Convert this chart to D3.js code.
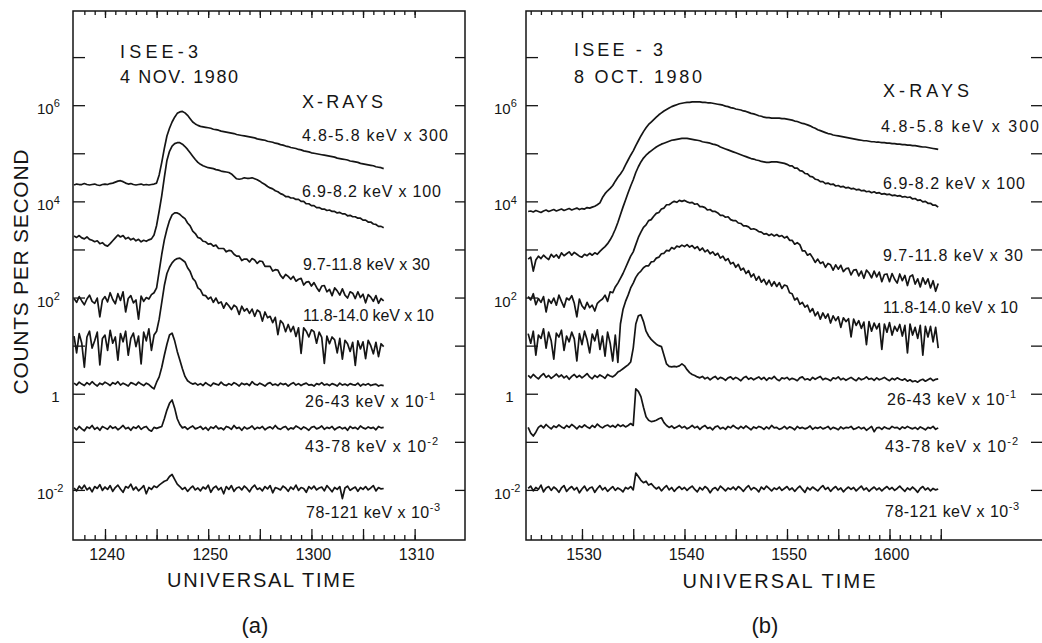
<!DOCTYPE html>
<html><head><meta charset="utf-8">
<script src="https://cdn.jsdelivr.net/npm/d3@7"></script>
<style>
body{margin:0;background:#fff}
svg{display:block}
text{font-family:"Liberation Sans",Arial,sans-serif;fill:#151515}
</style>
</head><body>
<svg id="chart" width="1042" height="643"></svg>
<script>
// ---------------- DATA ----------------
// Values are log10(counts per second, scaled as labelled), sampled every 0.25 min.
// Panel (a): 4 Nov 1980, time in minutes after 12:00 UT, first sample 12:37.
const timeStartA = 37, timeStepA = 0.25;
// Panel (b): 8 Oct 1980, time in minutes after 15:00 UT, first sample 15:24.75.
const timeStartB = 24.75, timeStepB = 0.25;

const channelLabels = [
  {base:"4.8-5.8 keV x 300", exp:""},
  {base:"6.9-8.2 keV x 100", exp:""},
  {base:"9.7-11.8 keV x 30", exp:""},
  {base:"11.8-14.0 keV x 10", exp:""},
  {base:"26-43 keV x 10", exp:"-1"},
  {base:"43-78 keV x 10", exp:"-2"},
  {base:"78-121 keV x 10", exp:"-3"}
];

const a_4_8 = [4.34,4.36,4.35,4.35,4.37,4.35,4.34,4.35,4.36,4.34,4.33,4.35,4.36,4.35,4.37,4.38,
4.40,4.42,4.43,4.41,4.38,4.36,4.37,4.35,4.34,4.35,4.36,4.34,4.35,4.34,4.35,4.36,
4.38,4.55,4.81,5.10,5.36,5.52,5.65,5.75,5.83,
5.86,5.87,5.84,5.79,5.72,5.65,5.61,5.58,5.56,5.55,5.54,5.53,
5.52,5.50,5.49,5.48,5.46,5.45,5.44,5.43,5.42,5.41,5.39,5.38,5.37,5.36,5.35,5.34,
5.33,5.32,5.30,5.29,5.28,5.27,5.25,5.24,5.23,5.21,5.20,5.18,5.17,5.15,5.14,5.12,
5.11,5.10,5.08,5.07,5.05,5.04,5.03,5.01,5.00,4.99,4.98,4.97,4.96,4.95,4.94,4.93,
4.92,4.90,4.89,4.88,4.87,4.86,4.84,4.83,4.82,4.81,4.79,4.78,4.77,4.76,4.75,4.74,
4.72,4.71,4.70,4.68];
const a_6_9 = [3.28,3.25,3.29,3.24,3.22,3.26,3.21,3.19,3.16,3.18,3.12,3.14,3.09,3.07,3.12,3.18,
3.24,3.30,3.26,3.29,3.22,3.25,3.20,3.23,3.18,3.21,3.16,3.19,3.17,3.20,3.22,3.30,
3.50,3.80,4.12,4.50,4.85,5.04,5.15,5.20,5.22,
5.22,5.19,5.14,5.08,5.01,4.94,4.87,4.81,4.77,4.74,4.72,4.70,
4.69,4.68,4.66,4.65,4.63,4.62,4.61,4.60,4.57,4.52,4.47,4.46,4.47,4.49,4.48,4.48,
4.49,4.47,4.45,4.42,4.38,4.35,4.31,4.28,4.26,4.22,4.20,4.16,4.14,4.10,4.10,4.07,
4.07,4.04,4.04,4.00,4.00,3.95,3.95,3.91,3.91,3.87,3.87,3.84,3.84,3.81,3.82,3.79,
3.79,3.76,3.77,3.74,3.74,3.70,3.71,3.68,3.68,3.65,3.65,3.61,3.61,3.57,3.57,3.53,
3.52,3.48,3.48,3.45];
const a_9_7 = [1.98,1.90,2.02,1.93,1.85,1.97,2.05,1.92,1.88,1.99,1.60,1.95,2.02,1.91,2.10,1.96,
1.87,2.08,1.94,2.12,1.70,1.98,2.04,1.89,1.95,1.55,2.03,1.92,2.00,1.97,2.06,2.10,
2.20,2.55,2.90,3.20,3.42,3.60,3.72,3.76,3.76,
3.73,3.68,3.64,3.55,3.49,3.38,3.33,3.25,3.23,3.17,3.16,3.11,
3.12,3.07,3.09,3.02,3.02,3.02,2.95,2.98,2.97,2.90,2.86,2.86,2.77,2.80,2.80,2.74,
2.81,2.78,2.71,2.76,2.75,2.65,2.65,2.65,2.55,2.58,2.57,2.46,2.40,2.48,2.44,2.38,
2.44,2.34,2.38,2.40,2.26,2.32,2.33,2.24,2.31,2.21,2.13,2.24,2.25,2.12,2.17,2.04,
2.20,2.14,2.05,2.18,2.05,1.99,2.12,2.09,1.98,2.12,2.00,2.07,1.89,2.06,2.01,1.92,
2.04,1.88,1.98,1.93];
const a_11_8 = [1.20,0.85,1.25,1.05,0.55,1.18,1.30,0.95,1.10,1.28,0.60,1.15,1.22,0.90,1.32,1.05,
1.18,0.70,1.25,1.08,1.30,0.80,1.15,1.26,0.98,1.20,0.62,1.28,1.10,1.35,0.90,1.22,
1.30,1.55,1.90,2.25,2.50,2.63,2.72,2.78,2.81,
2.82,2.78,2.74,2.62,2.54,2.40,2.34,2.20,2.16,2.05,2.04,1.97,
2.01,1.90,1.99,1.88,1.91,1.78,1.89,1.83,1.75,1.84,1.80,1.65,1.82,1.72,1.77,1.67,
1.76,1.61,1.74,1.70,1.51,1.70,1.58,1.61,1.48,1.59,1.23,1.52,1.46,1.29,1.44,1.29,
1.40,1.19,1.37,0.84,1.37,1.30,1.18,1.33,1.29,1.05,1.28,1.17,0.63,1.20,1.04,1.18,
1.12,0.85,1.15,0.72,1.11,1.04,0.88,1.07,0.59,1.10,0.93,1.08,0.73,1.11,1.00,0.83,
1.07,0.77,1.04,0.98];
const a_26 = [0.22,0.18,0.24,0.20,0.17,0.23,0.19,0.25,0.20,0.16,0.22,0.19,0.24,0.21,0.17,0.23,
0.20,0.25,0.18,0.22,0.19,0.16,0.23,0.21,0.18,0.24,0.20,0.17,0.22,0.19,0.14,0.10,
0.24,0.35,0.55,0.80,1.03,1.22,1.26,1.10,0.88,
0.70,0.52,0.36,0.27,0.23,0.20,0.22,0.18,
0.21,0.17,0.23,0.19,0.16,0.22,0.20,0.18,0.24,0.19,0.17,0.21,0.18,0.23,0.20,0.16,
0.22,0.19,0.21,0.17,0.25,0.20,0.18,0.22,0.19,0.16,0.21,0.23,0.18,0.20,0.17,0.22,
0.19,0.21,0.16,0.20,0.23,0.18,0.21,0.17,0.20,0.22,0.18,0.19,0.16,0.21,0.19,0.23,
0.18,0.20,0.17,0.21,0.19,0.16,0.22,0.18,0.20,0.17,0.21,0.19,0.18,0.22,0.16,0.20,
0.18,0.21,0.17,0.19,0.20,0.16,0.18,0.17];
const a_43 = [-0.70,-0.75,-0.68,-0.73,-0.77,-0.69,-0.72,-0.66,-0.74,-0.70,-0.76,-0.68,-0.71,-0.74,-0.67,-0.72,
-0.69,-0.75,-0.71,-0.66,-0.73,-0.70,-0.76,-0.69,-0.72,-0.67,-0.74,-0.70,-0.68,-0.75,-0.78,-0.70,
-0.72,-0.70,-0.68,-0.52,-0.34,-0.20,-0.13,-0.30,-0.52,
-0.64,-0.71,-0.69,-0.74,-0.70,-0.67,-0.73,-0.71,
-0.68,-0.74,-0.70,-0.76,-0.69,-0.72,-0.67,-0.73,-0.71,-0.75,-0.68,-0.70,-0.74,-0.66,-0.72,-0.70,
-0.76,-0.69,-0.73,-0.71,-0.67,-0.74,-0.70,-0.72,-0.68,-0.75,-0.71,-0.69,-0.73,-0.66,-0.72,-0.74,
-0.70,-0.68,-0.75,-0.71,-0.73,-0.67,-0.70,-0.74,-0.69,-0.72,-0.76,-0.70,-0.68,-0.73,-0.71,-0.67,
-0.74,-0.70,-0.72,-0.68,-0.75,-0.71,-0.69,-0.73,-0.70,-0.76,-0.68,-0.72,-0.70,-0.74,-0.67,-0.71,
-0.73,-0.69,-0.72,-0.70,-0.75,-0.68,-0.71,-0.70];
const a_78 = [-1.96,-2.02,-1.92,-1.98,-1.90,-2.00,-1.95,-2.04,-1.93,-1.97,-1.89,-2.01,-1.94,-1.99,-1.91,-2.03,
-1.95,-1.90,-1.98,-2.05,-1.93,-1.96,-1.88,-2.00,-1.94,-2.02,-1.97,-1.91,-2.08,-1.95,-1.99,-1.92,
-1.95,-1.90,-1.86,-1.82,-1.80,-1.72,-1.68,-1.78,-1.88,
-1.93,-1.99,-1.95,-2.03,-1.97,-1.92,-2.00,-1.96,
-2.02,-1.94,-1.98,-1.90,-2.05,-1.96,-1.92,-2.00,-1.95,-2.08,-1.93,-1.99,-1.91,-2.03,-1.96,-1.94,
-2.00,-1.92,-1.97,-2.04,-1.95,-1.90,-1.99,-1.96,-2.02,-1.93,-1.98,-1.91,-2.06,-1.95,-1.97,-2.00,
-1.92,-1.96,-2.03,-1.94,-1.99,-1.90,-2.01,-1.95,-1.97,-2.05,-1.93,-1.98,-1.92,-2.00,-1.96,-1.94,
-2.02,-1.91,-1.97,-2.04,-1.95,-1.99,-1.93,-2.18,-1.96,-1.92,-2.01,-1.97,-1.94,-2.03,-1.95,-1.99,
-1.93,-2.00,-1.96,-1.91,-2.02,-1.95,-1.98,-1.97];

const b_4_8 = [3.79,
3.80,3.78,3.81,3.79, 3.77,3.80,3.82,3.79, 3.81,3.83,3.80,3.82, 3.84,3.81,3.83,3.85,
3.82,3.84,3.86,3.83, 3.85,3.84,3.87,3.86, 3.88,3.90,3.93,3.97, 4.08,4.16,4.22,4.27,
4.33,4.42,4.50,4.57, 4.65,4.76,4.86,4.96, 5.05,5.16,5.26,5.36, 5.45,5.53,5.60,5.65,
5.70,5.75,5.80,5.84, 5.88,5.91,5.94,5.97, 5.99,6.01,6.03,6.04, 6.05,6.06,6.06,6.07,
6.07,6.07,6.07,6.06, 6.06,6.05,6.05,6.04, 6.03,6.02,6.01,6.00, 5.98,5.97,5.95,5.94,
5.92,5.91,5.90,5.88, 5.87,5.85,5.83,5.82, 5.80,5.78,5.77,5.75, 5.74,5.74,5.73,5.73,
5.73,5.73,5.72,5.72, 5.71,5.70,5.69,5.67, 5.66,5.64,5.62,5.61, 5.59,5.57,5.54,5.52,
5.49,5.47,5.45,5.43, 5.41,5.40,5.38,5.37, 5.36,5.35,5.34,5.33, 5.32,5.31,5.30,5.29,
5.28,5.27,5.26,5.26, 5.25,5.24,5.24,5.23, 5.23,5.22,5.22,5.21, 5.21,5.20,5.20,5.19,
5.19,5.18,5.18,5.17, 5.17,5.16,5.16,5.15, 5.14,5.13,5.13,5.12, 5.11,5.10,5.09,5.08];
const b_6_9 = [2.80,
2.84,2.55,2.78,2.86, 2.81,2.88,2.83,2.79, 2.90,2.84,2.89,2.82, 2.93,2.87,2.91,2.95,
2.88,2.94,2.90,2.86, 2.84,2.90,2.87,2.92, 2.88,2.93,2.90,2.96, 3.01,3.06,3.12,3.20,
3.30,3.42,3.56,3.72, 3.88,4.03,4.18,4.32, 4.45,4.60,4.72,4.82, 4.90,4.96,5.01,5.05,
5.09,5.13,5.16,5.19, 5.21,5.23,5.25,5.27, 5.28,5.29,5.30,5.31, 5.31,5.31,5.30,5.29,
5.28,5.27,5.26,5.24, 5.23,5.22,5.21,5.19, 5.18,5.16,5.13,5.11, 5.09,5.07,5.05,5.03,
5.01,4.99,4.97,4.95, 4.93,4.91,4.89,4.88, 4.86,4.85,4.83,4.82, 4.81,4.81,4.82,4.82,
4.82,4.81,4.80,4.79, 4.77,4.74,4.74,4.69, 4.69,4.64,4.63,4.58, 4.57,4.52,4.51,4.46,
4.45,4.41,4.41,4.37, 4.38,4.35,4.36,4.32, 4.33,4.30,4.31,4.28, 4.29,4.26,4.27,4.24,
4.25,4.22,4.23,4.20, 4.21,4.18,4.20,4.17, 4.18,4.15,4.16,4.14, 4.15,4.12,4.13,4.11,
4.12,4.09,4.10,4.08, 4.09,4.05,4.06,4.02, 4.03,3.99,4.00,3.96, 3.96,3.92,3.92,3.88];
const b_9_7 = [2.02,
1.95,2.08,1.85,1.98, 1.90,2.02,1.70,1.96, 1.88,1.99,1.84,2.05, 1.92,1.80,1.99,1.95,
2.04,1.88,1.60,1.97, 1.83,1.76,1.90,1.79, 1.84,1.72,1.88,1.93, 1.97,2.05,1.92,2.12,
2.10,2.22,2.30,2.40, 2.50,2.62,2.74,2.86, 2.95,3.10,3.25,3.36, 3.46,3.51,3.60,3.62,
3.69,3.75,3.77,3.84, 3.86,3.93,3.93,3.97, 4.00,3.98,4.02,4.00, 4.02,3.99,3.97,3.98,
3.94,3.95,3.89,3.89, 3.87,3.82,3.83,3.79, 3.79,3.76,3.71,3.71, 3.67,3.68,3.62,3.60,
3.60,3.55,3.54,3.49, 3.49,3.47,3.42,3.43, 3.41,3.37,3.36,3.32, 3.33,3.29,3.32,3.28,
3.31,3.27,3.29,3.24, 3.27,3.19,3.19,3.11, 3.14,3.10,2.97,2.97, 2.88,2.91,2.83,2.73,
2.80,2.71,2.74,2.63, 2.71,2.68,2.57,2.68, 2.59,2.67,2.54,2.60, 2.61,2.47,2.57,2.58,
2.45,2.55,2.40,2.57, 2.51,2.41,2.55,2.43, 2.53,2.33,2.48,2.49, 2.33,2.50,2.38,2.30,
2.49,2.35,2.46,2.25, 2.44,2.47,2.28,2.39, 2.22,2.41,2.28,2.39, 2.20,2.35,2.13,2.29];
const b_11_8 = [1.25,
1.05,1.30,0.80,1.22, 1.15,1.35,0.95,1.28, 1.10,0.72,1.26,1.18, 1.32,0.90,1.20,1.08,
1.28,1.14,0.68,1.25, 1.02,1.30,1.12,0.85, 1.24,1.10,1.33,0.92, 1.20,0.78,1.28,1.05,
0.68,1.22,0.65,1.45, 1.75,1.92,2.05,2.20, 2.30,2.42,2.50,2.55, 2.62,2.66,2.66,2.74,
2.75,2.82,2.84,2.91, 2.92,2.98,2.97,3.04, 3.01,3.07,3.05,3.09, 3.06,3.10,3.05,3.08,
3.02,3.06,2.98,3.03, 2.95,2.99,2.91,2.95, 2.88,2.92,2.82,2.86, 2.77,2.81,2.70,2.73,
2.63,2.69,2.57,2.61, 2.50,2.56,2.43,2.49, 2.36,2.44,2.32,2.38, 2.27,2.36,2.24,2.33,
2.23,2.31,2.19,2.26, 2.24,2.10,2.08,1.95, 1.99,1.86,1.90,1.80, 1.84,1.70,1.77,1.62,
1.70,1.55,1.68,1.57, 1.66,1.47,1.62,1.52, 1.60,1.38,1.58,1.50, 1.56,1.18,1.55,1.42,
1.52,1.36,1.49,1.02, 1.50,1.30,1.47,1.35, 1.46,0.92,1.45,1.28, 1.48,1.22,1.40,1.30,
1.44,1.20,1.42,0.85, 1.45,1.22,1.38,1.15, 1.42,0.80,1.40,1.18, 1.40,1.08,1.38,0.95];
const b_26 = [0.38,
0.33,0.40,0.35,0.31, 0.37,0.42,0.34,0.38, 0.32,0.36,0.41,0.35, 0.39,0.33,0.37,0.30,
0.36,0.40,0.34,0.38, 0.33,0.37,0.42,0.35, 0.31,0.38,0.34,0.39, 0.36,0.32,0.40,0.37,
0.35,0.39,0.45,0.48, 0.52,0.56,0.60,0.66, 0.95,1.45,1.62,1.64, 1.50,1.30,1.20,1.13,
1.08,1.03,1.00,0.98, 0.80,0.62,0.57,0.56, 0.57,0.56,0.58,0.62, 0.58,0.50,0.44,0.40,
0.38,0.35,0.33,0.36, 0.31,0.34,0.29,0.33, 0.36,0.30,0.34,0.32, 0.28,0.33,0.35,0.30,
0.34,0.31,0.27,0.33, 0.36,0.30,0.33,0.29, 0.32,0.35,0.30,0.34, 0.28,0.33,0.31,0.36,
0.30,0.27,0.33,0.31, 0.34,0.29,0.32,0.30, 0.27,0.33,0.35,0.29, 0.31,0.28,0.34,0.30,
0.33,0.36,0.29,0.32, 0.30,0.27,0.33,0.31, 0.35,0.29,0.32,0.28, 0.31,0.34,0.30,0.27,
0.33,0.29,0.31,0.35, 0.30,0.32,0.28,0.33, 0.29,0.31,0.34,0.30, 0.27,0.32,0.29,0.33,
0.30,0.28,0.31,0.26, 0.29,0.25,0.27,0.24, 0.28,0.30,0.26,0.29, 0.32,0.27,0.30,0.31];
const b_43 = [-0.70,
-0.82,-0.88,-0.80,-0.70, -0.66,-0.71,-0.64,-0.69, -0.73,-0.67,-0.70,-0.65, -0.69,-0.72,-0.66,-0.70,
-0.64,-0.68,-0.73,-0.67, -0.70,-0.65,-0.69,-0.72, -0.66,-0.70,-0.63,-0.68, -0.71,-0.67,-0.65,-0.69,
-0.66,-0.70,-0.64,-0.68, -0.65,-0.69,-0.66,-0.62, -0.66,0.10,0.05,-0.06, -0.28,-0.48,-0.55,-0.58,
-0.57,-0.55,-0.52,-0.50, -0.60,-0.66,-0.70,-0.67, -0.72,-0.69,-0.66,-0.71, -0.68,-0.73,-0.70,-0.66,
-0.71,-0.68,-0.74,-0.69, -0.66,-0.72,-0.70,-0.75, -0.69,-0.67,-0.73,-0.70, -0.74,-0.68,-0.71,-0.66,
-0.70,-0.73,-0.68,-0.72, -0.67,-0.71,-0.75,-0.69, -0.72,-0.68,-0.70,-0.74, -0.69,-0.73,-0.66,-0.71,
-0.70,-0.74,-0.72,-0.68, -0.73,-0.69,-0.71,-0.75, -0.68,-0.72,-0.70,-0.73, -0.71,-0.67,-0.74,-0.70,
-0.72,-0.69,-0.73,-0.71, -0.68,-0.74,-0.70,-0.72, -0.75,-0.69,-0.73,-0.70, -0.71,-0.68,-0.74,-0.72,
-0.69,-0.73,-0.70,-0.76, -0.72,-0.68,-0.79,-0.71, -0.70,-0.74,-0.69,-0.72, -0.73,-0.68,-0.71,-0.70,
-0.74,-0.69,-0.72,-0.68, -0.71,-0.73,-0.70,-0.74, -0.69,-0.72,-0.75,-0.70, -0.72,-0.68,-0.74,-0.71];
const b_78 = [-1.97,
-1.92,-2.02,-1.95,-1.99, -1.90,-2.04,-1.96,-1.93, -2.01,-1.94,-1.98,-2.05, -1.96,-1.91,-2.03,-1.97,
-1.93,-2.00,-1.95,-2.06, -1.98,-1.92,-2.02,-1.96, -1.94,-2.05,-1.97,-1.91, -2.00,-1.95,-2.03,-1.98,
-1.93,-2.01,-1.96,-1.99, -2.04,-1.95,-1.98,-1.93, -2.00,-1.65,-1.72,-1.80, -1.85,-1.82,-1.90,-1.87,
-1.93,-1.98,-1.94,-2.02, -1.96,-1.91,-2.00,-1.95, -2.03,-1.97,-1.93,-1.99, -1.95,-2.01,-1.96,-1.92,
-1.99,-2.04,-1.95,-2.00, -1.93,-1.97,-2.06,-1.98, -1.95,-2.01,-1.92,-1.97, -2.02,-1.96,-1.99,-1.94,
-2.00,-1.93,-1.97,-2.03, -1.96,-1.91,-2.00,-1.95, -1.98,-2.04,-1.94,-1.99, -1.92,-1.97,-2.02,-1.96,
-1.99,-1.94,-2.01,-1.97, -1.93,-2.00,-1.96,-2.03, -1.97,-1.92,-1.99,-2.05, -1.95,-2.00,-1.94,-1.98,
-2.02,-1.96,-1.91,-1.99, -1.95,-2.03,-1.97,-1.93, -2.00,-1.96,-2.04,-1.98, -1.94,-1.99,-1.95,-2.02,
-1.97,-1.92,-2.00,-1.96, -2.03,-1.98,-1.94,-2.00, -1.96,-2.02,-1.97,-1.93, -1.99,-1.95,-2.01,-1.97,
-1.92,-1.98,-2.03,-1.96, -2.00,-1.94,-1.99,-2.05, -1.97,-1.93,-2.00,-1.96, -2.02,-1.97,-2.00,-1.98];

const seriesA = [a_4_8, a_6_9, a_9_7, a_11_8, a_26, a_43, a_78];
const seriesB = [b_4_8, b_6_9, b_9_7, b_11_8, b_26, b_43, b_78];

// Axis tick values and labels
const yDecades = [1e-2,1e-1,1,1e1,1e2,1e3,1e4,1e5,1e6,1e7];
const yTickLabels = [{v:1e6,exp:"6"},{v:1e4,exp:"4"},{v:1e2,exp:"2"},{v:1,exp:null},{v:1e-2,exp:"-2"}];
const xTickValuesA = [40,50,60,70], xTickLabelsA = ["1240","1250","1300","1310"];
const xTickValuesB = [30,40,50,60], xTickLabelsB = ["1530","1540","1550","1600"];

// ---------------- LAYOUT ----------------
const svg = d3.select("#chart");
const ink = "#151515";
const yTop = 11, yBot = 540;
const y = d3.scaleLog().domain([1e-3,1e8]).range([538,9]);

const panels = [
  { series: seriesA, t0: timeStartA, dt: timeStepA, left: 73, right: 465, xDomain:[36.9,74.88],
    minor: d3.range(38,71), major: d3.range(40,71,5), tickVals: xTickValuesA, tickLabs: xTickLabelsA,
    rightTick: 10, yLabX: 37, oneX: 55.5,
    title1: ["ISEE-3",120,58,78], title2: ["4 NOV. 1980",120,83,118], xrays:[302,108,81],
    labelPos: [[302,141,146],[302,197,139],[303,270,127],[303,321,131],[305,407,130],[305,452,133],[306,518,134]],
    xTitle: [261,587,188], letter: ["(a)",255,633] },
  { series: seriesB, t0: timeStartB, dt: timeStepB, left: 526, right: 1044, xDomain:[24.54,75.07],
    minor: d3.range(25,66), major: d3.range(30,66,5), tickVals: xTickValuesB, tickLabs: xTickLabelsB,
    rightTick: 13, yLabX: 494, oneX: 509.5,
    title1: ["ISEE - 3",574,56,89], title2: ["8 OCT. 1980",574,83,128], xrays:[883,97,86],
    labelPos: [[881,132,158],[883,189,142],[883,261,140],[883,313,135],[887,405,129],[885,452,133],[885,517,134]],
    xTitle: [779,588,193], letter: ["(b)",765,633] }
];

function clean(g){
  g.select(".domain").remove();
  g.selectAll("line").attr("stroke", ink).attr("stroke-width", 1.3);
}

function supText(g, x, yy, base, exp, size, supSize, anchor){
  const t = g.append("text").attr("x", x).attr("y", yy).attr("font-size", size)
    .attr("text-anchor", anchor || "start");
  t.append("tspan").text(base);
  if (exp) t.append("tspan").attr("font-size", supSize).attr("dy", -size*0.45).text(exp);
  return t;
}

panels.forEach(p => {
  const g = svg.append("g");
  const x = d3.scaleLinear().domain(p.xDomain).range([p.left, p.right]);

  // frame
  g.append("rect").attr("x", p.left).attr("y", yTop).attr("width", p.right - p.left)
    .attr("height", yBot - yTop).attr("fill", "none").attr("stroke", ink).attr("stroke-width", 1.5);

  // time ticks (inward)
  g.append("g").attr("transform", `translate(0,${yBot})`)
    .call(d3.axisBottom(x).tickValues(p.minor).tickSize(-5).tickFormat("")).call(clean);
  g.append("g").attr("transform", `translate(0,${yBot})`)
    .call(d3.axisBottom(x).tickValues(p.major).tickSize(-11).tickFormat("")).call(clean);
  g.append("g").attr("transform", `translate(0,${yTop})`)
    .call(d3.axisTop(x).tickValues(p.minor).tickSize(-4).tickFormat("")).call(clean);
  g.append("g").attr("transform", `translate(0,${yTop})`)
    .call(d3.axisTop(x).tickValues(p.major).tickSize(-7).tickFormat("")).call(clean);

  // count ticks
  g.append("g").attr("transform", `translate(${p.left},0)`)
    .call(d3.axisLeft(y).tickValues(yDecades).tickSize(-12).tickFormat("")).call(clean);
  g.append("g").attr("transform", `translate(${p.right},0)`)
    .call(d3.axisRight(y).tickValues(yDecades).tickSize(-p.rightTick).tickFormat("")).call(clean);

  // time tick labels
  p.tickVals.forEach((v, i) => {
    g.append("text").attr("x", x(v) + 2).attr("y", 560).attr("text-anchor", "middle")
      .attr("font-size", 16).text(p.tickLabs[i]);
  });

  // count tick labels
  yTickLabels.forEach(d => {
    if (d.exp === null) {
      g.append("text").attr("x", p.oneX).attr("y", y(d.v) + 8).attr("text-anchor", "middle")
        .attr("font-size", 15).text("1");
    } else {
      supText(g, p.yLabX, y(d.v) + 9, "10", d.exp, 15, 11);
    }
  });

  // traces
  const line = d3.line()
    .x((d, i) => x(p.t0 + i * p.dt))
    .y(d => y(Math.pow(10, d)))
    .curve(d3.curveLinear);
  p.series.forEach(s => {
    g.append("path").datum(s).attr("d", line).attr("fill", "none")
      .attr("stroke", ink).attr("stroke-width", 1.7).attr("stroke-linejoin", "round");
  });

  // titles
  [p.title1, p.title2].forEach(t => {
    g.append("text").attr("x", t[1]).attr("y", t[2]).attr("font-size", 18)
      .attr("textLength", t[3]).attr("lengthAdjust", "spacing").text(t[0]);
  });
  g.append("text").attr("x", p.xrays[0]).attr("y", p.xrays[1]).attr("font-size", 18)
    .attr("textLength", p.xrays[2]).attr("lengthAdjust", "spacing").text("X-RAYS");

  // channel labels
  channelLabels.forEach((c, i) => {
    const pos = p.labelPos[i];
    const t = supText(g, pos[0], pos[1], c.base, c.exp, 16, 11);
    t.attr("textLength", pos[2]).attr("lengthAdjust", "spacing");
  });

  // axis title and panel letter
  g.append("text").attr("x", p.xTitle[0]).attr("y", p.xTitle[1]).attr("text-anchor", "middle")
    .attr("font-size", 20).attr("textLength", p.xTitle[2]).attr("lengthAdjust", "spacing")
    .text("UNIVERSAL  TIME");
  g.append("text").attr("x", p.letter[1]).attr("y", p.letter[2]).attr("text-anchor", "middle")
    .attr("font-size", 22).text(p.letter[0]);
});

// y-axis title
svg.append("text").attr("transform", "translate(28,272) rotate(-90)").attr("text-anchor", "middle")
  .attr("font-size", 21).attr("textLength", 245).attr("lengthAdjust", "spacing")
  .text("COUNTS PER SECOND");
</script>
</body></html>
